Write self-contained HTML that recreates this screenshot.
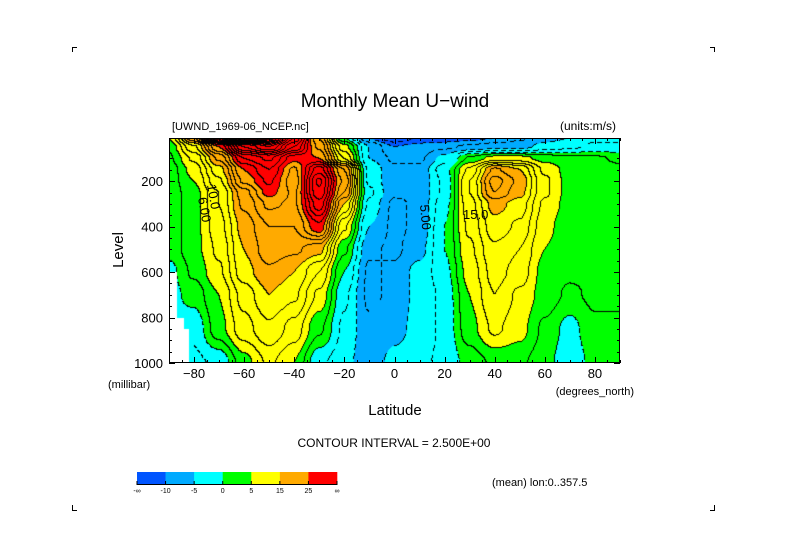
<!DOCTYPE html>
<html><head><meta charset="utf-8"><style>
body{margin:0;background:#fff;}
#wrap{position:relative;width:789px;height:558px;overflow:hidden;background:#fff;font-family:"Liberation Sans",sans-serif;}
svg text{font-family:"Liberation Sans",sans-serif;}
#cv{position:absolute;left:169px;top:138px;}
</style></head><body>
<div id="wrap">
<canvas id="cv" width="451" height="225"></canvas>
<svg id="ov" width="789" height="558" style="position:absolute;left:0;top:0">
<g stroke="#000" fill="none" stroke-width="1">
<path d="M72.5,52V47.5H77"/><path d="M710,47.5H714.5V52"/><path d="M72.5,505V510.5H77"/><path d="M710,510.5H714.5V505"/>
</g>
<text x="395" y="107" font-size="19" text-anchor="middle">Monthly Mean U−wind</text>
<text x="172" y="130" font-size="11">[UWND_1969-06_NCEP.nc]</text>
<text x="616" y="130" font-size="12" text-anchor="end">(units:m/s)</text>
<g id="frame"></g>
<text transform="translate(123,250) rotate(-90)" font-size="15" text-anchor="middle">Level</text>
<text x="108" y="388" font-size="11">(millibar)</text>
<text x="634" y="395" font-size="11" text-anchor="end">(degrees_north)</text>
<text x="395" y="415" font-size="15" text-anchor="middle">Latitude</text>
<text x="394" y="447" font-size="12" text-anchor="middle">CONTOUR INTERVAL = 2.500E+00</text>
<text x="492" y="486" font-size="11">(mean) lon:0..357.5</text>
<g id="cbar"></g>
<g font-size="13">
<text x="463" y="219">15.0</text>
<text transform="translate(207,185) rotate(80)">10.0</text>
<text transform="translate(198,198) rotate(80)">6.00</text>
<text transform="translate(420,205) rotate(85)">5.00</text>
</g>
</svg>
</div>
<script>
const lats=[-90,-80,-70,-60,-50,-40,-30,-20,-10,0,10,20,30,40,50,60,70,80,90];
const levels=[10,50,100,150,200,250,300,400,500,600,700,850,1000];
const uwind=[
[5,20,40,60,60,40,20,0,-10,-15,-12,-12,-11,-10,-8,-6,-5,-3,-3],
[3,12,25,40,45,35,22,6,-5,-10,-9,-8,-7,-6,-6,-4,-3,-2,-2],
[2,8,18,30,33,26,25,10,-5,-8,-8,-4,3,6,6,4,3,3,2],
[1,6,14,25,30,22,34,20,-3,-7,-7,-1,8,18,15,7,4,4,3],
[1,5,12,23,28,21,38,22,-3,-7,-7,-2,10,21,17,8,4,5,3],
[1,4,10,19,26,22,37,20,-2,-7,-7,-2,10,20,16,8,4,5,3],
[1,4,10,18,23,22,34,15,-3,-8,-7,-1,9,16,14,7,4,4,3],
[1,4,9,16,20,20,27,8,-5,-8,-7,0,8,14,12,6,3,3,3],
[1,4,8,15,19,18,16,3,-7,-8,-6,0,7,12,10,5,3,3,3],
[-1,3,7,14,17,15,10,0,-8,-7,-4,-1,6,11,9,4,3,3,3],
[-1,1,5,11,15,13,7,-2,-8,-7,-4,-2,5,10,7,4,2,3,3],
[-1,-2,4,9,12,9,3,-3,-7,-6,-4,-2,4,8,6,2,-1,2,2],
[-1,-3,-2,4,8,5,-2,-4,-7,-4,-3,-2,1,3,3,1,-2,1,2]];
const missLevel=[600,800,850];
const missLat=[-87,-84,-82];
const bandEdges=[-10,-5,0,5,15,25];
const bandLabels=["-∞","-10","-5","0","5","15","25","∞"];
const bandColors=[[0,85,255],[0,170,255],[0,255,255],[0,255,0],[255,255,0],[255,170,0],[255,0,0]];
const X0=169,W=451,Y0=138,H=225,LEVTOP=10;
const xOf=lat=>X0+(lat+90)/180*W;
const yOf=p=>Y0+(p-LEVTOP)/(1000-LEVTOP)*H;
const latOfPx=px=>(px)/W*180-90;
const levOfPx=py=>LEVTOP+py/H*(1000-LEVTOP);
function interp(lat,p){
 let i=Math.min(lats.length-2,Math.max(0,Math.floor((lat+90)/10)));
 let tx=(lat-lats[i])/10;tx=Math.max(0,Math.min(1,tx));
 let j=0;while(j<levels.length-2&&p>levels[j+1])j++;
 let ty=(p-levels[j])/(levels[j+1]-levels[j]);ty=Math.max(0,Math.min(1,ty));
 const a=uwind[j][i],b=uwind[j][i+1],c=uwind[j+1][i],d=uwind[j+1][i+1];
 const sx=tx*tx*(3-2*tx),sy=ty*ty*(3-2*ty);
 return (a*(1-sx)+b*sx)*(1-sy)+(c*(1-sx)+d*sx)*sy;
}
function missing(lat,p){
 for(let k=missLevel.length-1;k>=0;k--){if(p>=missLevel[k])return lat<missLat[k];}
 return false;
}
const cv=document.getElementById('cv'),ctx=cv.getContext('2d');
const img=ctx.createImageData(W,H);
const V=[],M=[];
for(let y=0;y<H;y++){V.push(new Float32Array(W));M.push(new Uint8Array(W));
 for(let x=0;x<W;x++){const la=latOfPx(x+0.5),p=levOfPx(y+0.5);V[y][x]=interp(la,p);M[y][x]=missing(la,p)?1:0;}}
for(let y=0;y<H;y++)for(let x=0;x<W;x++){
 const v=V[y][x];let k=0;while(k<bandEdges.length&&v>=bandEdges[k])k++;
 let c=M[y][x]?[255,255,255]:bandColors[k];
 const ci=Math.floor(v/2.5);
 let line=false;
 if(!M[y][x]){
  if(x+1<W&&!M[y][x+1]&&Math.floor(V[y][x+1]/2.5)!==ci)line=true;
  if(y+1<H&&!M[y+1][x]&&Math.floor(V[y+1][x]/2.5)!==ci)line=true;
  if(line&&v<0&&((x+y)%8)>=5)line=false;
 }
 if(line)c=[0,0,0];
 const o=(y*W+x)*4;img.data[o]=c[0];img.data[o+1]=c[1];img.data[o+2]=c[2];img.data[o+3]=255;
}
ctx.putImageData(img,0,0);
const NS='http://www.w3.org/2000/svg';
function mk(tag,attrs,parent,txt){const e=document.createElementNS(NS,tag);for(const k in attrs)e.setAttribute(k,attrs[k]);if(txt!==undefined)e.textContent=txt;parent.appendChild(e);return e;}
const fr=document.getElementById('frame');
const rect=mk('rect',{x:X0+0.5,y:Y0+0.5,width:W-1,height:H-1,fill:'none',stroke:'#000'},fr);


const yTicks=[200,400,600,800,1000];
for(let p=100;p<=1000;p+=50){const y=Math.round(yOf(p))+0.5;const L=p%200===0?6:3;
 mk('line',{x1:X0,x2:X0+L,y1:y,y2:y,stroke:'#000'},fr);mk('line',{x1:X0+W-L,x2:X0+W,y1:y,y2:y,stroke:'#000'},fr);}
yTicks.forEach(p=>{const t=mk('text',{x:163,y:yOf(p)+5,'font-size':13,'text-anchor':'end'},fr,String(p));
 
 });
const xTicks=[-80,-60,-40,-20,0,20,40,60,80];
for(let la=-90;la<=90;la+=5){const x=Math.round(xOf(la))+0.5;const L=la%20===0?6:3;
 mk('line',{x1:x,x2:x,y1:Y0+H-L,y2:Y0+H,stroke:'#000'},fr);mk('line',{x1:x,x2:x,y1:Y0,y2:Y0+L,stroke:'#000'},fr);}
xTicks.forEach(la=>{const t=mk('text',{x:xOf(la),y:378,'font-size':13,'text-anchor':'middle'},fr,la<0?'−'+(-la):String(la));
 
 });
const cb=document.getElementById('cbar');
const cbX=137,cbW=200,cbY=472,cbH=12,bw=cbW/bandColors.length;
bandColors.forEach((c,i)=>{const r=mk('rect',{x:cbX+i*bw,y:cbY,width:bw+0.3,height:cbH,fill:`rgb(${c[0]},${c[1]},${c[2]})`},cb);
 
 });
mk('line',{x1:cbX,x2:cbX+cbW,y1:cbY+cbH+0.5,y2:cbY+cbH+0.5,stroke:'#000'},cb);
bandLabels.forEach((l,i)=>{const x=cbX+i*bw;mk('line',{x1:x,x2:x,y1:cbY+cbH-3,y2:cbY+cbH+1,stroke:'#000'},cb);
 const t=mk('text',{x:x,y:cbY+cbH+9,'font-size':7,'text-anchor':'middle'},cb,l);
 
 });
</script>
</body></html>
